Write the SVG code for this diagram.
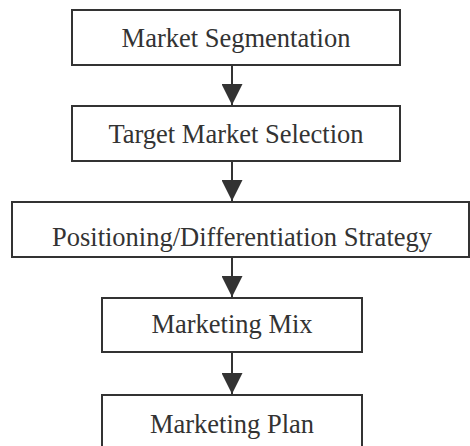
<svg xmlns="http://www.w3.org/2000/svg" width="470" height="446" viewBox="0 0 470 446">
  <style>
    .box { fill: #ffffff; stroke: #333333; stroke-width: 2; }
    .label { font-family: 'Liberation Serif', 'Times New Roman', Times, 'DejaVu Serif', serif; font-size: 26.5px; fill: #333333; text-anchor: middle; }
    .conn { stroke: #333333; stroke-width: 2; fill: none; }
  </style>
  <defs>
    <marker id="arrowhead" markerUnits="userSpaceOnUse" markerWidth="22" markerHeight="21" refX="21" refY="10.5" orient="auto">
      <path d="M0,0 L21,10.5 L0,21 Z" fill="#333333"/>
    </marker>
  </defs>
  <rect width="470" height="446" fill="#ffffff"/>

  <!-- downward flow arrows between consecutive steps -->
  <g id="connectors">
    <line class="conn" x1="232" y1="65" x2="232" y2="105" marker-end="url(#arrowhead)"/>
    <line class="conn" x1="232" y1="161" x2="232" y2="201" marker-end="url(#arrowhead)"/>
    <line class="conn" x1="232" y1="257" x2="232" y2="297" marker-end="url(#arrowhead)"/>
    <line class="conn" x1="232" y1="352" x2="232" y2="394" marker-end="url(#arrowhead)"/>
  </g>

  <g id="market-segmentation">
    <rect class="box" x="72" y="10" width="328" height="55"/>
    <text class="label" x="236" y="47">Market Segmentation</text>
  </g>

  <g id="target-market-selection">
    <rect class="box" x="72" y="106" width="328" height="55"/>
    <text class="label" x="236" y="143">Target Market Selection</text>
  </g>

  <g id="positioning-strategy">
    <rect class="box" x="12" y="202" width="457" height="55"/>
    <text class="label" x="242" y="246">Positioning/Differentiation Strategy</text>
  </g>

  <g id="marketing-mix">
    <rect class="box" x="102" y="298" width="260" height="54"/>
    <text class="label" x="232" y="333">Marketing Mix</text>
  </g>

  <g id="marketing-plan">
    <rect class="box" x="102" y="395" width="260" height="54"/>
    <text class="label" x="232" y="433">Marketing Plan</text>
  </g>
</svg>
